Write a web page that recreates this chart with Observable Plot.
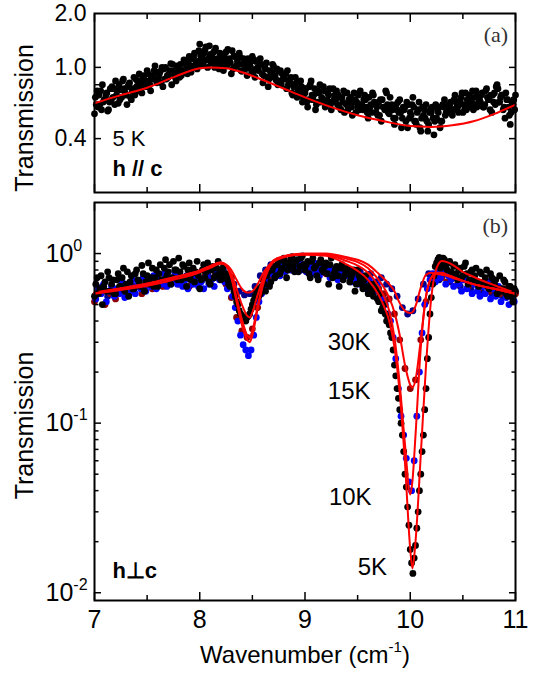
<!DOCTYPE html>
<html><head><meta charset="utf-8">
<script src="https://cdn.jsdelivr.net/npm/d3@7"></script>
<script src="https://cdn.jsdelivr.net/npm/@observablehq/plot@0.6"></script>
<style>
body{margin:0;background:#fff;}
#wrap{position:relative;width:536px;height:683px;overflow:hidden;background:#fff;}
#wrap svg{position:absolute;left:0;}
</style></head><body><div id="wrap"></div>
<script>
// ---------- axis ticks ----------
const wavenumberTicks = [7, 8, 9, 10, 11];
const wavenumberMinorTicks = [7.5, 8.5, 9.5, 10.5];
const transA_labelTicks = [0.4, 1.0, 2.0];
const transA_tickLabels = ["0.4", "1.0", "2.0"];
const transA_tickMarks = [0.4, 0.8, 1.0];
const transB_ticks = [0.01, 0.1, 1];
const transB_tickLabels = ["10^-2", "10^-1", "10^0"];
const transB_minorTicks = [0.02,0.03,0.04,0.05,0.06,0.07,0.08,0.09,0.2,0.3,0.4,0.5,0.6,0.7,0.8,0.9];

// ---------- panel (a): h // c, 5 K (three interleaved sweeps) ----------
const dataA_step = 0.025;
const dataA1_start = 7.0;
const dataA1 = [
0.55,0.74,0.62,0.80,0.66,0.57,0.76,0.68, 0.84,0.63,0.75,0.86,0.70,0.80,0.66,0.88,
0.78,0.92,0.72,0.85,0.96,0.80,0.90,1.02, 0.84,0.95,0.78,1.00,0.88,1.05,0.92,0.84,
1.00,0.90,1.10,0.96,1.15,1.02,1.20,0.98, 1.35,1.12,1.25,1.00,1.18,1.08,1.28,1.04,
1.15,0.96,1.22,1.10,0.92,1.16,1.02,1.20, 0.95,1.10,0.90,1.05,1.15,0.88,1.00,1.12,
0.82,0.98,0.78,0.92,1.02,0.85,0.95,0.80, 0.90,0.76,0.84,0.72,0.80,0.68,0.76,0.64,
0.72,0.60,0.80,0.66,0.58,0.74,0.64,0.78, 0.62,0.70,0.58,0.66,0.74,0.60,0.68,0.56,
0.72,0.62,0.54,0.66,0.60,0.74,0.58,0.66, 0.52,0.62,0.70,0.56,0.64,0.50,0.60,0.72,
0.55,0.62,0.48,0.58,0.66,0.52,0.60,0.46, 0.56,0.68,0.50,0.58,0.44,0.54,0.62,0.48,
0.56,0.42,0.52,0.60,0.50,0.66,0.56,0.62, 0.54,0.70,0.60,0.66,0.56,0.72,0.62,0.68,
0.58,0.74,0.64,0.70,0.60,0.76,0.66,0.56, 0.72,0.80,0.64,0.70,0.52,0.66,0.48,0.62,
0.70];
const dataA2_start = 7.0083;
const dataA2 = [
0.68,0.60,0.74,0.64,0.70,0.58,0.66,0.76, 0.70,0.80,0.68,0.76,0.62,0.82,0.74,0.70,
0.84,0.76,0.88,0.80,0.92,0.74,0.86,0.94, 0.88,0.82,0.98,0.86,0.92,0.80,0.96,1.02,
0.88,0.96,1.06,0.92,1.02,1.12,1.00,1.08, 1.16,1.04,1.30,1.12,1.06,1.22,1.10,0.98,
1.08,1.18,1.02,1.12,1.24,1.00,1.08,1.14, 1.04,0.98,1.12,1.00,0.94,1.08,0.96,1.04,
0.90,1.06,0.86,0.94,0.88,0.98,0.84,0.92, 0.86,0.96,0.82,0.70,0.88,0.74,0.84,0.68,
0.76,0.66,0.84,0.70,0.62,0.72,0.68,0.74, 0.66,0.76,0.64,0.70,0.62,0.68,0.64,0.72,
0.58,0.68,0.64,0.56,0.70,0.62,0.66,0.60, 0.68,0.56,0.64,0.60,0.54,0.66,0.58,0.62,
0.68,0.58,0.52,0.64,0.56,0.60,0.50,0.62, 0.54,0.60,0.48,0.64,0.52,0.58,0.50,0.56,
0.60,0.50,0.58,0.46,0.62,0.54,0.58,0.64, 0.58,0.64,0.56,0.68,0.62,0.58,0.70,0.64,
0.68,0.60,0.66,0.72,0.62,0.68,0.58,0.70, 0.62,0.76,0.68,0.58,0.72,0.60,0.56,0.66];
const dataA3_start = 7.0167;
const dataA3 = [
0.62,0.70,0.58,0.66,0.72,0.64,0.78,0.62, 0.74,0.66,0.84,0.72,0.78,0.68,0.76,0.86,
0.74,0.82,0.90,0.78,0.84,0.88,0.96,0.82, 0.92,1.00,0.86,0.90,0.96,1.04,0.88,0.94,
1.04,0.94,0.98,1.08,0.94,1.14,1.06,1.24, 1.02,1.20,1.10,1.32,1.14,1.00,1.12,1.20,
1.02,1.10,1.26,1.06,0.98,1.14,1.04,0.96, 1.12,1.02,1.08,0.96,1.10,0.98,1.06,0.92,
1.00,0.88,0.96,1.04,0.90,0.80,0.96,0.86, 0.92,0.80,0.88,0.78,0.82,0.72,0.78,0.76,
0.64,0.78,0.70,0.76,0.64,0.80,0.66,0.60, 0.72,0.62,0.76,0.66,0.70,0.58,0.74,0.62,
0.66,0.60,0.72,0.64,0.58,0.62,0.70,0.56, 0.60,0.72,0.62,0.54,0.66,0.60,0.74,0.56,
0.60,0.52,0.62,0.56,0.46,0.58,0.64,0.52, 0.62,0.50,0.56,0.46,0.60,0.52,0.44,0.58,
0.52,0.62,0.56,0.50,0.60,0.56,0.62,0.58, 0.66,0.60,0.62,0.72,0.58,0.66,0.60,0.74,
0.62,0.70,0.64,0.60,0.74,0.66,0.70,0.64, 0.78,0.64,0.70,0.60,0.66,0.54,0.64,0.58];
const fitA_x = [7.0,7.25,7.5,7.75,8.0,8.1,8.25,8.4,8.6,8.8,9.0,9.25,9.5,9.75,10.0,10.2,10.4,10.6,10.8,11.0];
const fitA_y = [0.63,0.70,0.77,0.88,0.99,1.0,0.99,0.94,0.85,0.76,0.68,0.60,0.54,0.50,0.47,0.465,0.475,0.50,0.55,0.62];

// ---------- panel (b): h ⊥ c ----------
const temps = ["5K", "10K", "15K", "30K"];
const seriesColors = ["#000000", "#0000ff", "#8b0000", "#00008b"];
const data5K_start = 7.0, data5K_step = 0.025;
const data5K = [
0.56,0.72,0.62,0.50,0.68,0.78,0.60,0.70, 0.58,0.76,0.64,0.82,0.66,0.56,0.74,0.62,
0.80,0.68,0.85,0.60,0.74,0.66,0.82,0.72, 0.64,0.86,0.70,0.92,0.78,0.66,0.90,0.80,
0.94,0.70,0.84,0.64,0.88,0.76,0.68,0.90, 0.62,0.80,0.72,0.88,0.66,0.84,0.74,0.90,
0.70,0.84,0.76,0.66,0.72,0.60,0.52,0.46, 0.43,0.41,0.42,0.44,0.50,0.56,0.62,0.58,
0.70,0.60,0.78,0.68,0.84,0.74,0.90,0.80, 0.94,0.72,0.86,0.96,0.78,0.92,0.84,0.97,
0.80,0.90,0.72,0.94,0.84,0.70,0.92,0.78, 0.88,0.66,0.94,0.76,0.84,0.64,0.86,0.74,
0.82,0.68,0.76,0.60,0.80,0.70,0.62,0.74, 0.58,0.66,0.56,0.62,0.52,0.46,0.50,0.40,
0.38,0.32,0.22,0.16,0.12,0.085,0.050,0.032, 0.018,0.013,0.019,0.030,0.050,0.085,0.16,0.32,
0.55,0.74,0.88,0.95,0.86,0.92,0.80,0.90, 0.76,0.86,0.70,0.82,0.74,0.88,0.66,0.78,
0.70,0.82,0.64,0.76,0.68,0.80,0.62,0.72, 0.66,0.58,0.74,0.62,0.68,0.56,0.64,0.52,
0.60];
const data5Kb_start = 7.0125, data5Kb_step = 0.025;
const data5Kb = [
0.66,0.58,0.74,0.64,0.60,0.72,0.66,0.58, 0.70,0.64,0.72,0.60,0.78,0.68,0.62,0.76,
0.70,0.64,0.76,0.68,0.88,0.72,0.64,0.80, 0.76,0.70,0.82,0.74,0.86,0.72,0.80,0.70,
0.78,0.86,0.72,0.80,0.70,0.82,0.78,0.74, 0.70,0.86,0.78,0.68,0.80,0.72,0.82,0.76,
0.80,0.74,0.70,0.64,0.66,0.56,0.50,0.44, 0.42,0.40,0.43,0.47,0.53,0.60,0.56,0.64,
0.66,0.74,0.64,0.80,0.72,0.86,0.76,0.82, 0.88,0.80,0.92,0.84,0.90,0.78,0.94,0.86,
0.86,0.76,0.90,0.82,0.74,0.88,0.80,0.84, 0.76,0.86,0.72,0.80,0.74,0.82,0.70,0.78,
0.76,0.72,0.80,0.66,0.74,0.66,0.70,0.64, 0.62,0.60,0.66,0.54,0.58,0.48,0.44,0.42,
0.34,0.27,0.19,0.14,0.10,0.068,0.042,0.025, 0.015,0.016,0.024,0.040,0.068,0.12,0.24,0.44,
0.66,0.84,0.92,0.82,0.94,0.84,0.88,0.78, 0.84,0.76,0.80,0.72,0.84,0.76,0.70,0.80,
0.74,0.68,0.78,0.66,0.72,0.64,0.76,0.66, 0.70,0.62,0.60,0.70,0.58,0.64,0.56,0.62];
const data10K_start = 7.0125, data10K_step = 0.025;
const data10K = [
0.54,0.62,0.58,0.66,0.52,0.60,0.64,0.56, 0.62,0.58,0.68,0.55,0.64,0.60,0.70,0.58,
0.66,0.62,0.72,0.60,0.68,0.64,0.74,0.62, 0.70,0.66,0.76,0.64,0.72,0.68,0.78,0.66,
0.74,0.64,0.70,0.62,0.76,0.66,0.72,0.64, 0.68,0.62,0.74,0.66,0.70,0.64,0.76,0.70,
0.74,0.68,0.62,0.66,0.56,0.48,0.40,0.33, 0.29,0.27,0.25,0.27,0.33,0.42,0.52,0.58,
0.64,0.70,0.66,0.76,0.72,0.80,0.74,0.84, 0.78,0.86,0.80,0.90,0.82,0.88,0.80,0.86,
0.78,0.84,0.76,0.88,0.80,0.74,0.84,0.78, 0.82,0.72,0.80,0.76,0.70,0.78,0.72,0.80,
0.74,0.68,0.76,0.70,0.66,0.74,0.68,0.62, 0.70,0.64,0.60,0.66,0.58,0.54,0.50,0.44,
0.40,0.32,0.24,0.16,0.11,0.085,0.062,0.045, 0.040,0.060,0.11,0.20,0.34,0.50,0.62,0.70,
0.76,0.68,0.80,0.72,0.78,0.66,0.74,0.70, 0.64,0.72,0.66,0.60,0.70,0.62,0.68,0.58,
0.66,0.60,0.56,0.64,0.58,0.68,0.54,0.62, 0.56,0.64,0.52,0.60,0.55,0.50,0.58,0.52];
const data15K_start = 7.0, data15K_step = 0.05;
const data15K = [
0.52,0.60,0.50,0.58,0.54,0.62,0.56,0.60, 0.64,0.58,0.66,0.62,0.70,0.64,0.68,0.72,
0.66,0.70,0.64,0.72,0.68,0.74,0.70,0.76, 0.74,0.66,0.55,0.42,0.35,0.32,0.36,0.48,
0.62,0.72,0.78,0.84,0.80,0.88,0.82,0.86, 0.80,0.88,0.78,0.84,0.76,0.82,0.74,0.80,
0.76,0.72,0.78,0.70,0.74,0.66,0.62,0.58, 0.54,0.44,0.31,0.21,0.16,0.18,0.31,0.52,
0.70,0.76,0.72,0.68,0.74,0.66,0.70,0.64, 0.68,0.62,0.66,0.60,0.64,0.58,0.62,0.56,
0.58];
const data30K_start = 7.025, data30K_step = 0.05;
const data30K = [
0.58,0.64,0.56,0.62,0.60,0.66,0.58,0.64, 0.66,0.62,0.70,0.64,0.68,0.74,0.66,0.72,
0.68,0.74,0.66,0.72,0.70,0.76,0.72,0.78, 0.80,0.74,0.66,0.60,0.57,0.58,0.64,0.74,
0.80,0.86,0.82,0.88,0.84,0.90,0.82,0.86, 0.80,0.86,0.78,0.84,0.80,0.76,0.82,0.74,
0.80,0.72,0.78,0.70,0.76,0.68,0.72,0.66, 0.62,0.56,0.48,0.44,0.46,0.54,0.66,0.76,
0.74,0.70,0.76,0.68,0.72,0.64,0.70,0.62, 0.66,0.60,0.64,0.58,0.62,0.56,0.60,0.54];

const fitB_x = [7.0,7.25,7.5,7.75,8.0,8.1,8.2,8.25,8.3,8.35,8.4,8.45,8.475,8.5,8.55,8.6,8.65,8.7,8.8,8.9,9.0,9.2,9.4,9.5,9.6,9.7,9.75,9.8,9.85,9.9,9.95,10.0,10.02,10.05,10.1,10.15,10.2,10.25,10.3,10.35,10.4,10.5,10.6,10.8,11.0];
const fit5K = [0.585,0.62,0.66,0.72,0.79,0.84,0.885,0.86,0.76,0.62,0.50,0.43,0.42,0.45,0.57,0.71,0.83,0.91,0.96,0.98,0.985,0.97,0.86,0.79,0.70,0.57,0.49,0.40,0.28,0.15,0.058,0.018,0.0139,0.020,0.065,0.22,0.55,0.82,0.905,0.89,0.86,0.78,0.73,0.65,0.585];
const fit10K = [0.59,0.625,0.665,0.725,0.795,0.845,0.885,0.85,0.72,0.52,0.38,0.31,0.30,0.33,0.47,0.65,0.80,0.89,0.95,0.98,0.99,0.98,0.90,0.85,0.77,0.64,0.56,0.46,0.32,0.17,0.075,0.038,0.045,0.085,0.28,0.56,0.72,0.77,0.77,0.75,0.73,0.69,0.66,0.62,0.58];
const fit15K = [0.585,0.62,0.66,0.72,0.79,0.84,0.88,0.85,0.73,0.55,0.41,0.33,0.32,0.35,0.49,0.67,0.81,0.90,0.96,0.985,0.995,0.99,0.93,0.89,0.82,0.70,0.63,0.55,0.45,0.33,0.22,0.168,0.162,0.18,0.31,0.56,0.72,0.76,0.76,0.745,0.73,0.69,0.66,0.62,0.58];
const fit30K = [0.58,0.61,0.645,0.70,0.775,0.825,0.87,0.86,0.80,0.70,0.62,0.59,0.59,0.60,0.66,0.76,0.84,0.91,0.965,0.99,1.0,1.0,0.95,0.92,0.86,0.76,0.71,0.66,0.60,0.51,0.46,0.446,0.45,0.49,0.63,0.75,0.77,0.76,0.75,0.74,0.72,0.69,0.66,0.62,0.58];

// ---------- annotations (data coordinates) ----------
const tempLabelA = [{text: "5 K", x: 7.17, y: 0.40}];
const polLabelA = [{text: "h // c", x: 7.17, y: 0.27}];
const tempLabelsB = [
  {text: "30K", x: 9.42, y: 0.30},
  {text: "15K", x: 9.42, y: 0.155},
  {text: "10K", x: 9.43, y: 0.0366},
  {text: "5K", x: 9.64, y: 0.0141}
];
const polLabelB = [{text: "h\u22A5c", x: 7.17, y: 0.0135}];
const panelA_tag = [{text: "(a)", x: 10.93, y: 1.51}];
const panelB_tag = [{text: "(b)", x: 10.93, y: 1.46}];

// ---------- build tables ----------
const seq = (start, step, vals, extra = {}) => vals.map((v, i) => ({x: +(start + i * step).toFixed(4), y: v, ...extra}));
const dataA = [
  ...seq(dataA1_start, dataA_step, dataA1),
  ...seq(dataA2_start, dataA_step, dataA2),
  ...seq(dataA3_start, dataA_step, dataA3)
];
const fitA = fitA_x.map((x, i) => ({x, y: fitA_y[i]}));
const seriesB = [
  seq(data30K_start, data30K_step, data30K, {t: "30K"}),
  seq(data15K_start, data15K_step, data15K, {t: "15K"}),
  seq(data10K_start, data10K_step, data10K, {t: "10K"}),
  [...seq(data5K_start, data5K_step, data5K, {t: "5K"}), ...seq(data5Kb_start, data5Kb_step, data5Kb, {t: "5K"})]
];
const fitsB = [fit30K, fit15K, fit10K, fit5K].map(f => fitB_x.map((x, i) => ({x, y: f[i]})));
const colorOf = t => seriesColors[temps.indexOf(t)];

const SANS = '"Liberation Sans", Arial, Helvetica, sans-serif';
const SERIF = '"Liberation Serif", "Times New Roman", serif';
const common = {
  width: 536, marginLeft: 94, marginRight: 21,
  style: {fontFamily: SANS, color: "#000", background: "transparent", overflow: "visible"}
};
const xTickMarks = () => [
  Plot.axisX(wavenumberTicks, {anchor: "bottom", tickSize: -8, text: null, strokeWidth: 1.5, label: null}),
  Plot.axisX(wavenumberMinorTicks, {anchor: "bottom", tickSize: -5, text: null, strokeWidth: 1.5, label: null}),
  Plot.axisX(wavenumberTicks, {anchor: "top", tickSize: -8, text: null, strokeWidth: 1.5, label: null}),
  Plot.axisX(wavenumberMinorTicks, {anchor: "top", tickSize: -5, text: null, strokeWidth: 1.5, label: null})
];

const plotA = Plot.plot({
  ...common, height: 200, marginTop: 13, marginBottom: 8,
  x: {domain: [7, 11], label: null},
  y: {type: "log", domain: [0.2, 2], label: null},
  marks: [
    Plot.dot(dataA, {x: "x", y: "y", r: 3.4, fill: "#000"}),
    Plot.line(fitA, {x: "x", y: "y", stroke: "#ff0000", strokeWidth: 2, curve: "monotone-x"}),
    ...xTickMarks(),
    Plot.axisY(transA_tickMarks, {anchor: "left", tickSize: -7, text: null, strokeWidth: 1.5, label: null}),
    Plot.axisY(transA_tickMarks, {anchor: "right", tickSize: -7, text: null, strokeWidth: 1.5, label: null}),
    Plot.axisY(transA_labelTicks, {anchor: "left", tickSize: 0, tickPadding: 8, label: null, fontSize: 23,
      tickFormat: d => transA_tickLabels[transA_labelTicks.indexOf(d)]}),
    Plot.text(["Transmission"], {frameAnchor: "left", text: d => d, rotate: -90, textAnchor: "middle", dx: -70, dy: 15, fontSize: 25}),
    Plot.text(tempLabelA, {x: "x", y: "y", text: "text", textAnchor: "start", fontSize: 22}),
    Plot.text(polLabelA, {x: "x", y: "y", text: "text", textAnchor: "start", fontWeight: "bold", fontSize: 22}),
    Plot.text(panelA_tag, {x: "x", y: "y", text: "text", textAnchor: "end", fontSize: 22, fontFamily: SERIF, fill: "#333"}),
    Plot.frame({strokeWidth: 2})
  ]
});

const plotB = Plot.plot({
  ...common, height: 483, marginTop: 2, marginBottom: 83,
  x: {domain: [7, 11], label: null},
  y: {type: "log", domain: [0.009, 2], label: null},
  marks: [
    ...seriesB.map(s => Plot.dot(s, {x: "x", y: "y", r: 3.4, fill: colorOf(s[0].t)})),
    ...fitsB.map(f => Plot.line(f, {x: "x", y: "y", stroke: "#ff0000", strokeWidth: 2, curve: "monotone-x"})),
    ...xTickMarks(),
    Plot.axisX(wavenumberTicks, {anchor: "bottom", tickSize: 0, tickPadding: 10, fontSize: 25, label: null}),
    Plot.axisY(transB_ticks, {anchor: "left", tickSize: -7, text: null, strokeWidth: 1.5, label: null}),
    Plot.axisY(transB_minorTicks, {anchor: "left", tickSize: -4.5, text: null, strokeWidth: 1.5, label: null}),
    Plot.axisY(transB_ticks, {anchor: "right", tickSize: -7, text: null, strokeWidth: 1.5, label: null}),
    Plot.axisY(transB_minorTicks, {anchor: "right", tickSize: -4.5, text: null, strokeWidth: 1.5, label: null}),
    Plot.axisY(transB_ticks, {anchor: "left", tickSize: 0, tickPadding: 49, textAnchor: "start", label: null, fontSize: 25,
      tickFormat: d => transB_tickLabels[transB_ticks.indexOf(d)]}),
    Plot.text(["Transmission"], {frameAnchor: "left", text: d => d, rotate: -90, textAnchor: "middle", dx: -70, dy: 24, fontSize: 25}),
    Plot.text(["Wavenumber (cm^-1^)"], {frameAnchor: "bottom", text: d => d, textAnchor: "middle", dy: 62, fontSize: 24}),
    Plot.text(tempLabelsB, {x: "x", y: "y", text: "text", fontSize: 24}),
    Plot.text(polLabelB, {x: "x", y: "y", text: "text", textAnchor: "start", fontWeight: "bold", fontSize: 22}),
    Plot.text(panelB_tag, {x: "x", y: "y", text: "text", textAnchor: "end", fontSize: 22, fontFamily: SERIF, fill: "#333"}),
    Plot.frame({strokeWidth: 2})
  ]
});

// superscripts: segments split by "^", odd segments raised
function superscripts(svg) {
  d3.select(svg).selectAll("text").each(function () {
    const s = this.textContent;
    if (!s.includes("^")) return;
    const base = parseFloat(getComputedStyle(this).fontSize) || 24;
    const sup = Math.round(base * 0.62), rise = Math.round(base * 0.45);
    const parts = s.split("^");
    const t = d3.select(this);
    t.text(null);
    parts.forEach((p, j) => {
      if (!p) return;
      const sp = t.append("tspan").text(p);
      if (j % 2 === 1) sp.attr("font-size", sup).attr("dy", -rise);
      else if (j > 0) sp.attr("dy", rise);
    });
  });
}

const wrap = document.getElementById("wrap");
plotA.style.top = "0px";
plotB.style.top = "200px";
wrap.appendChild(plotA);
wrap.appendChild(plotB);
superscripts(plotB);
</script>
</body></html>
